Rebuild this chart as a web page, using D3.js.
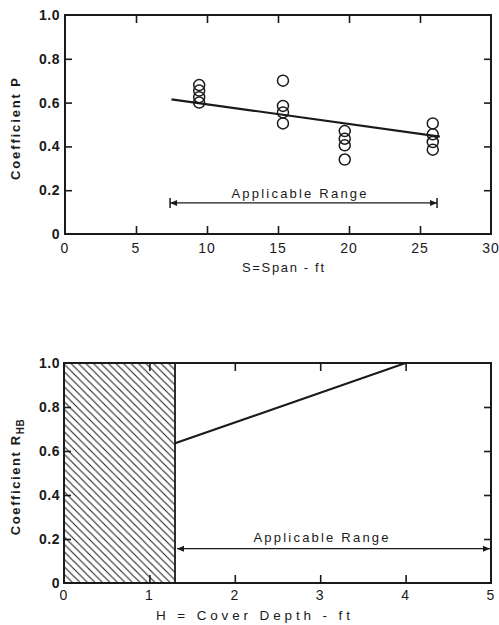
<!DOCTYPE html>
<html>
<head>
<meta charset="utf-8">
<script src="https://cdn.jsdelivr.net/npm/d3@7"></script>
<style>
  html, body { margin: 0; padding: 0; background: #fff; }
  svg { display: block; }
  text { font-family: "Liberation Sans", Arial, sans-serif; fill: #1a1a1a; }
</style>
</head>
<body>
<svg id="chart" width="499" height="625"></svg>
<script>
// ---------- Data: top chart (Coefficient P vs Span) ----------
const spanTicks = [0, 5, 10, 15, 20, 25, 30];
const spanInnerTicks = [5, 10, 15, 20, 25];
const pTicks = [0, 0.2, 0.4, 0.6, 0.8, 1.0];
const pointSpan = [9.45, 9.45, 9.45, 9.45, 15.35, 15.35, 15.35, 15.35, 19.7, 19.7, 19.7, 19.7, 25.9, 25.9, 25.9, 25.9];
const pointP    = [0.68, 0.655, 0.625, 0.60, 0.70, 0.585, 0.555, 0.505, 0.47, 0.435, 0.405, 0.34, 0.505, 0.455, 0.42, 0.385];
const fitSpan = [7.5, 26.4];
const fitP    = [0.615, 0.445];
const rangeSpan = [7.4, 26.2];
const rangeP = 0.142;

// ---------- Data: bottom chart (Coefficient R_HB vs Cover depth) ----------
const depthTicks = [0, 1, 2, 3, 4, 5];
const depthInnerTicks = [1, 2, 3, 4];
const rTicks = [0, 0.2, 0.4, 0.6, 0.8, 1.0];
const curveDepth = [1.3, 4.0, 5.0];
const curveR     = [0.635, 1.0, 1.0];
const hatchDepth = [0, 1.3];
const rangeDepth = [1.3, 5.0];
const rangeR = 0.156;

const svg = d3.select("#chart");
const fmtY = d => d === 0 ? "0" : d3.format(".1f")(d);

// hatch pattern
const defs = svg.append("defs");
const pat = defs.append("pattern")
  .attr("id", "hatch").attr("patternUnits", "userSpaceOnUse")
  .attr("width", 7.5).attr("height", 7.5);
pat.append("path")
  .attr("d", "M-1,-1 L8.5,8.5 M-1,6.5 L1,8.5 M6.5,-1 L8.5,1")
  .attr("stroke", "#222").attr("stroke-width", 1.1);

function frame(g, x, y, xInner, yInner, xLabels, yLabels, xLabelY) {
  const [x0, x1] = x.range();
  const [y0, y1] = y.range();
  // inner ticks
  g.append("g").attr("transform", `translate(0,${y0})`)
    .call(d3.axisBottom(x).tickValues(xInner).tickSize(-8).tickFormat(""))
    .call(a => a.select(".domain").remove());
  g.append("g").attr("transform", `translate(0,${y1})`)
    .call(d3.axisTop(x).tickValues(xInner).tickSize(-8).tickFormat(""))
    .call(a => a.select(".domain").remove());
  const yInnerVals = yInner;
  g.append("g").attr("transform", `translate(${x0},0)`)
    .call(d3.axisLeft(y).tickValues(yInnerVals).tickSize(-7).tickFormat(""))
    .call(a => a.select(".domain").remove());
  g.append("g").attr("transform", `translate(${x1},0)`)
    .call(d3.axisRight(y).tickValues(yInnerVals).tickSize(-7).tickFormat(""))
    .call(a => a.select(".domain").remove());
  g.selectAll(".tick line").attr("stroke", "#1a1a1a").attr("stroke-width", 1.6);
  // frame
  g.append("rect")
    .attr("x", x0).attr("y", y1).attr("width", x1 - x0).attr("height", y0 - y1)
    .attr("fill", "none").attr("stroke", "#1a1a1a").attr("stroke-width", 2);
  // x labels
  g.append("g").selectAll("text").data(xLabels).join("text")
    .attr("x", d => x(d)).attr("y", xLabelY)
    .attr("text-anchor", "middle").attr("dominant-baseline", "central")
    .attr("font-size", 14).attr("letter-spacing", 1)
    .text(d => d);
  // y labels
  g.append("g").selectAll("text").data(yLabels).join("text")
    .attr("x", 60).attr("y", d => y(d))
    .attr("text-anchor", "end").attr("dominant-baseline", "central")
    .attr("font-size", 14).attr("font-weight", "bold").attr("letter-spacing", 0.5)
    .attr("fill", "#2a2a2a")
    .text(fmtY);
}

function rangeArrow(g, xa, xb, yy, leftBar, rightBar) {
  g.append("line").attr("x1", xa).attr("x2", xb).attr("y1", yy).attr("y2", yy)
    .attr("stroke", "#1a1a1a").attr("stroke-width", 1.3);
  // arrowheads
  g.append("path").attr("d", `M${xa},${yy} L${xa + 7},${yy - 3} L${xa + 7},${yy + 3} Z`).attr("fill", "#1a1a1a");
  g.append("path").attr("d", `M${xb},${yy} L${xb - 7},${yy - 3} L${xb - 7},${yy + 3} Z`).attr("fill", "#1a1a1a");
  if (leftBar) g.append("line").attr("x1", xa).attr("x2", xa).attr("y1", yy - 5).attr("y2", yy + 5)
    .attr("stroke", "#1a1a1a").attr("stroke-width", 1.5);
  if (rightBar) g.append("line").attr("x1", xb).attr("x2", xb).attr("y1", yy - 5).attr("y2", yy + 5)
    .attr("stroke", "#1a1a1a").attr("stroke-width", 1.5);
}

// ================= TOP CHART =================
{
  const g = svg.append("g");
  const x = d3.scaleLinear().domain([0, 30]).range([65, 491]);
  const y = d3.scaleLinear().domain([0, 1]).range([234, 15]);
  frame(g, x, y, spanInnerTicks, [0.2, 0.4, 0.6, 0.8], spanTicks, pTicks, 248);

  const line = d3.line().x(d => x(d[0])).y(d => y(d[1]));
  g.append("path").datum(d3.zip(fitSpan, fitP)).attr("d", line)
    .attr("fill", "none").attr("stroke", "#1a1a1a").attr("stroke-width", 2.2);

  g.append("g").selectAll("circle").data(d3.zip(pointSpan, pointP)).join("circle")
    .attr("cx", d => x(d[0])).attr("cy", d => y(d[1])).attr("r", 5.5)
    .attr("fill", "none").attr("stroke", "#1a1a1a").attr("stroke-width", 1.5);

  rangeArrow(g, x(rangeSpan[0]), x(rangeSpan[1]), y(rangeP), true, true);
  g.append("text").attr("x", 299).attr("y", 193)
    .attr("text-anchor", "middle").attr("dominant-baseline", "central")
    .attr("font-size", 13).attr("textLength", 135).attr("lengthAdjust", "spacing")
    .text("Applicable Range");

  g.append("text").attr("x", 283).attr("y", 267)
    .attr("text-anchor", "middle").attr("dominant-baseline", "central")
    .attr("font-size", 13).attr("textLength", 82).attr("lengthAdjust", "spacing")
    .text("S=Span - ft");

  g.append("text").attr("transform", "translate(15,129) rotate(-90)")
    .attr("text-anchor", "middle").attr("dominant-baseline", "central")
    .attr("font-size", 13).attr("font-weight", "bold")
    .attr("textLength", 102).attr("lengthAdjust", "spacing")
    .text("Coefficient P");
}

// ================= BOTTOM CHART =================
{
  const g = svg.append("g");
  const x = d3.scaleLinear().domain([0, 5]).range([64, 491]);
  const y = d3.scaleLinear().domain([0, 1]).range([583, 363]);

  // hatched excluded zone
  g.append("rect")
    .attr("x", x(hatchDepth[0])).attr("y", y(1))
    .attr("width", x(hatchDepth[1]) - x(hatchDepth[0])).attr("height", y(0) - y(1))
    .attr("fill", "url(#hatch)");
  g.append("line").attr("x1", x(hatchDepth[1])).attr("x2", x(hatchDepth[1]))
    .attr("y1", y(0)).attr("y2", y(1)).attr("stroke", "#1a1a1a").attr("stroke-width", 1.8);

  frame(g, x, y, depthInnerTicks, [0.2, 0.4, 0.6, 0.8], depthTicks, rTicks, 595);

  const line = d3.line().x(d => x(d[0])).y(d => y(d[1]));
  g.append("path").datum(d3.zip(curveDepth, curveR)).attr("d", line)
    .attr("fill", "none").attr("stroke", "#1a1a1a").attr("stroke-width", 2.2);

  rangeArrow(g, x(rangeDepth[0]) + 2, x(rangeDepth[1]) - 1, y(rangeR), false, false);
  g.append("text").attr("x", 321).attr("y", 537)
    .attr("text-anchor", "middle").attr("dominant-baseline", "central")
    .attr("font-size", 13).attr("textLength", 135).attr("lengthAdjust", "spacing")
    .text("Applicable Range");

  g.append("text").attr("x", 253).attr("y", 615)
    .attr("text-anchor", "middle").attr("dominant-baseline", "central")
    .attr("font-size", 13.5).attr("textLength", 194).attr("lengthAdjust", "spacing")
    .text("H = Cover Depth - ft");

  const t = g.append("text").attr("transform", "translate(15,477) rotate(-90)")
    .attr("text-anchor", "middle").attr("dominant-baseline", "central")
    .attr("font-size", 13).attr("font-weight", "bold").attr("letter-spacing", 1.6);
  t.append("tspan").text("Coefficient  R");
  t.append("tspan").attr("dy", 5).attr("font-size", 10).attr("letter-spacing", 0.5).text("HB");
}
</script>
</body>
</html>
